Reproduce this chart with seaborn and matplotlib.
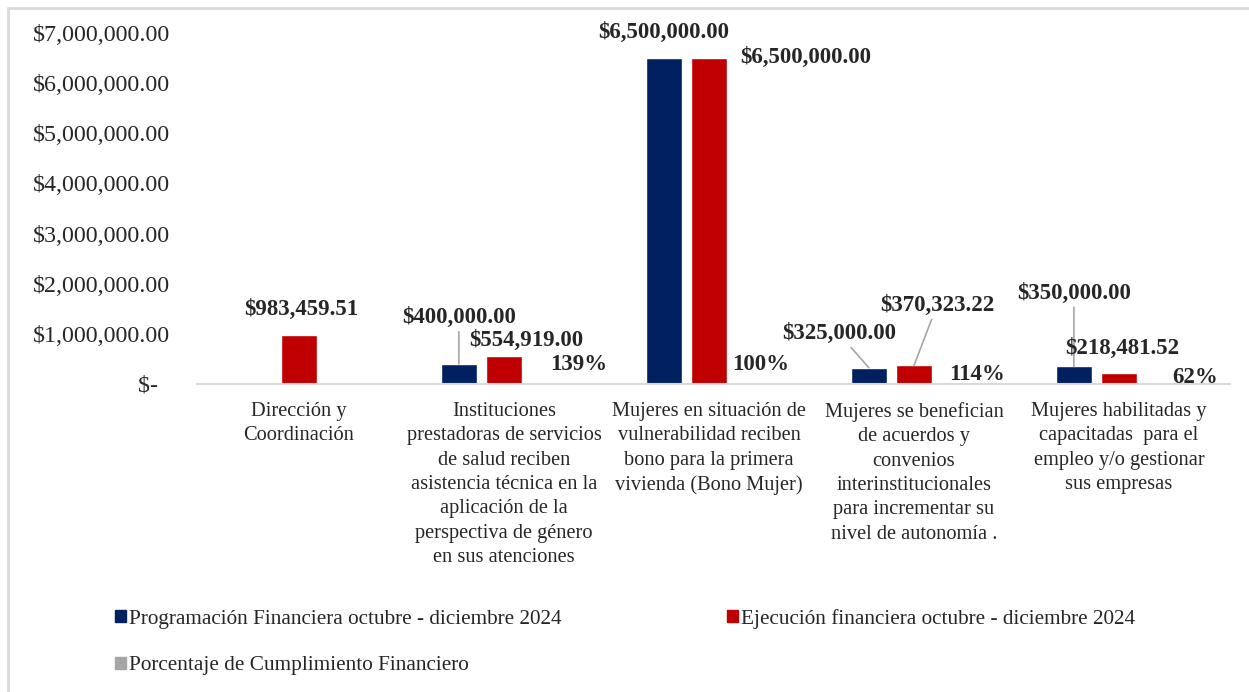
import pandas as pd
import matplotlib
matplotlib.use('Agg')
import matplotlib.pyplot as plt
import matplotlib.patches as mpatches
import matplotlib.lines as mlines
import seaborn as sns

categories = [
    'Dirección y\nCoordinación',
    'Instituciones\nprestadoras de servicios\nde salud reciben\nasistencia técnica en la\naplicación de la\nperspectiva de género\nen sus atenciones',
    'Mujeres en situación de\nvulnerabilidad reciben\nbono para la primera\nvivienda (Bono Mujer)',
    'Mujeres se benefician\nde acuerdos y\nconvenios\ninterinstitucionales\npara incrementar su\nnivel de autonomía .',
    'Mujeres habilitadas y\ncapacitadas  para el\nempleo y/o gestionar\nsus empresas',
]
series = [
    'Programación Financiera octubre - diciembre 2024',
    'Ejecución financiera octubre - diciembre 2024',
    'Porcentaje de Cumplimiento Financiero',
]
programado = [None, 400000.00, 6500000.00, 325000.00, 350000.00]
ejecutado = [983459.51, 554919.00, 6500000.00, 370323.22, 218481.52]
porcentaje = [None, 1.39, 1.00, 1.14, 0.62]
colores = ['#002060', '#C00000', '#A5A5A5']
yticks = [0, 1e6, 2e6, 3e6, 4e6, 5e6, 6e6, 7e6]

df = pd.DataFrame({
    'cat': categories * 3,
    'serie': [series[0]] * 5 + [series[1]] * 5 + [series[2]] * 5,
    'valor': programado + ejecutado + porcentaje,
}).dropna()

sns.set_style('white')
plt.rcParams['font.family'] = ['Liberation Serif', 'DejaVu Serif']

fig = plt.figure(figsize=(12.49, 6.92), dpi=100)
ax = fig.add_axes([196.5 / 1249, 1 - 384 / 692, (1230 - 196.5) / 1249, (384 - 33) / 692])

sns.barplot(data=df, x='cat', y='valor', hue='serie', order=categories,
            hue_order=series, palette=colores, width=0.66, gap=0.21,
            saturation=1, legend=False, ax=ax)

ax.set_ylim(0, 7e6)
ax.set_xlim(-0.5, 4.5 + (1230 - 196.5 - 5 * 205) / 205)
ax.set_yticks(yticks)
ax.set_yticklabels(['$-  '] + [f'${v:,.2f}' for v in yticks[1:]], fontsize=17.3)
ax.tick_params(axis='y', length=0, pad=19)
ax.tick_params(axis='x', length=0, pad=13, labelsize=14.7)
for lab in ax.get_xticklabels():
    lab.set_linespacing(1.38)
ax.set_xlabel('')
ax.set_ylabel('')
for s in ['top', 'right', 'left']:
    ax.spines[s].set_visible(False)
ax.spines['bottom'].set_color('#d9d9d9')
ax.spines['bottom'].set_linewidth(1.5)

# label offsets in pixels (dx, dy, leader line) per series and category
offsets = {
    0: {1: (0, 46, True), 2: (0, 26, False), 3: (-30, 34, True), 4: (0, 73, True)},
    1: {0: (2, 25, False), 1: (22, 16, False), 2: (97, 1, False), 3: (23, 60, True), 4: (3, 25, False)},
    2: {1: (30, 19, False), 2: (7, 19, False), 3: (18, 9, False), 4: (31, 6, False)},
}
values = [programado, ejecutado, porcentaje]
for si, cont in enumerate(ax.containers):
    for bar in cont:
        xc = bar.get_x() + bar.get_width() / 2
        ci = int(round(xc))
        v = values[si][ci]
        if v is None:
            continue
        dx, dy, line = offsets[si][ci]
        txt = f'{v:.0%}' if si == 2 else f'${v:,.2f}'
        ax.annotate(txt, (xc, bar.get_height()), xytext=(dx, dy),
                    textcoords='offset pixels', ha='center', va='center',
                    fontsize=16.5, fontweight='bold',
                    arrowprops=dict(arrowstyle='-', color='#a6a6a6', lw=1.2,
                                    shrinkA=0, shrinkB=0) if line else None)

handles = [mpatches.Patch(color=c, label=s) for c, s in zip(colores, series)]
order = [0, 2, 1]
fig.legend([handles[i] for i in order], [series[i] for i in order],
           loc='upper left', bbox_to_anchor=(115 / 1249, 1 - 609 / 692),
           ncol=2, frameon=False, fontsize=15.3, handlelength=0.5,
           handleheight=0.5, handletextpad=0.15, labelspacing=1.29,
           columnspacing=7.8, borderpad=0, borderaxespad=0)

# outer frame (only top and left edges visible in the original crop)
fig.add_artist(mlines.Line2D([8 / 1249, 1], [1 - 8 / 692, 1 - 8 / 692],
                             transform=fig.transFigure, color='#d9d9d9', lw=2))
fig.add_artist(mlines.Line2D([8 / 1249, 8 / 1249], [0, 1 - 8 / 692],
                             transform=fig.transFigure, color='#d9d9d9', lw=2))

fig.savefig('out.png', dpi=100)
